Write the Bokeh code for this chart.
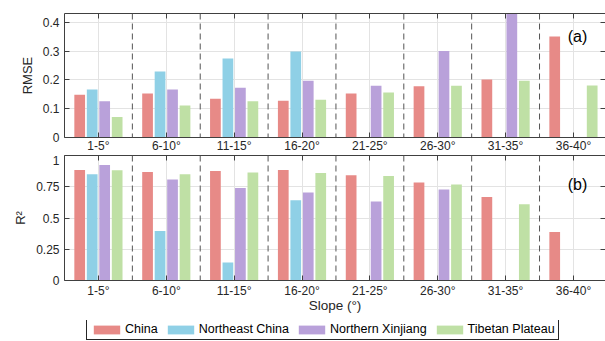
import math
from bokeh.plotting import figure
from bokeh.models import (FixedTicker, Span, Label, Legend, LegendItem, LinearAxis,
                          ColumnDataSource, Range1d, Grid)
from bokeh.layouts import column
from bokeh.embed import file_html
from bokeh.resources import INLINE

nan = float("nan")

categories = ["1-5°", "6-10°", "11-15°", "16-20°", "21-25°", "26-30°", "31-35°", "36-40°"]
series_names = ["China", "Northeast China", "Northern Xinjiang", "Tibetan Plateau"]
series_colors = ["#E78A87", "#8FD0E6", "#B9A1DA", "#BFE0A5"]

rmse_china = [0.149, 0.153, 0.135, 0.128, 0.153, 0.178, 0.202, 0.351]
rmse_northeast = [0.167, 0.229, 0.275, 0.299, nan, nan, nan, nan]
rmse_xinjiang = [0.126, 0.167, 0.173, 0.197, 0.180, 0.301, 0.450, nan]
rmse_tibet = [0.071, 0.111, 0.126, 0.131, 0.156, 0.180, 0.197, 0.181]

r2_china = [0.885, 0.869, 0.877, 0.885, 0.843, 0.784, 0.669, 0.389]
r2_northeast = [0.851, 0.397, 0.144, 0.643, nan, nan, nan, nan]
r2_xinjiang = [0.925, 0.808, 0.741, 0.704, 0.632, 0.728, nan, nan]
r2_tibet = [0.883, 0.851, 0.864, 0.861, 0.837, 0.768, 0.611, nan]

rmse_ticks = [0, 0.1, 0.2, 0.3, 0.4]
r2_ticks = [0, 0.25, 0.5, 0.75, 1]

FONT = "Liberation Sans"
TXT = "#262626"
LINE = "#404040"
GRID = "#E3E3E3"

offsets = [-0.276, -0.092, 0.092, 0.276]
bar_w = 0.158
positions = list(range(1, len(categories) + 1))
GROUP_PX = 67.86
LEFT = 64
FRAME_W = 541
TOTAL_W = LEFT + FRAME_W
x_end = 0.5 + FRAME_W / GROUP_PX


def series_source(vals, off):
    xs = [pos + off for pos, v in zip(positions, vals) if not math.isnan(v)]
    ys = [v for v in vals if not math.isnan(v)]
    return ColumnDataSource(dict(x=xs, top=ys))


def make_panel(values, ymax, yticks, ylabel, tag, tag_y, frame_h, min_top, min_bottom, show_xlabel):
    p = figure(frame_width=FRAME_W, frame_height=frame_h, output_backend="svg",
               toolbar_location=None, x_range=Range1d(0.5, x_end), y_range=Range1d(0, ymax),
               min_border_left=LEFT, min_border_right=0, min_border_top=min_top,
               min_border_bottom=min_bottom, x_axis_location=None, y_axis_location=None)
    p.outline_line_color = None
    p.background_fill_color = "white"
    p.border_fill_color = "white"

    for vals, off, col in zip(values, offsets, series_colors):
        p.vbar(x="x", top="top", bottom=0, width=bar_w, source=series_source(vals, off),
               fill_color=col, line_color=None)

    xt = FixedTicker(ticks=positions, minor_ticks=[])
    yt = FixedTicker(ticks=yticks, minor_ticks=[])
    overrides = {pos: c for pos, c in zip(positions, categories)}
    yover = {t: ("%g" % t) for t in yticks}

    below = LinearAxis(ticker=xt, major_label_overrides=overrides)
    left = LinearAxis(ticker=yt, major_label_overrides=yover)
    above = LinearAxis(ticker=xt, major_label_overrides={pos: "" for pos in positions})
    right = LinearAxis(ticker=yt, major_label_overrides={t: "" for t in yticks})
    for ax in (below, left, above, right):
        ax.major_tick_in = 5
        ax.major_tick_out = 0
        ax.minor_tick_in = 0
        ax.minor_tick_out = 0
        ax.major_tick_line_color = LINE
        ax.axis_line_color = LINE
        ax.major_label_text_font = FONT
        ax.major_label_text_font_size = "12px"
        ax.major_label_text_color = TXT
        ax.axis_label_text_font = FONT
        ax.axis_label_text_font_style = "normal"
        ax.axis_label_text_color = TXT
    for ax in (above, right):
        ax.major_label_text_font_size = "1px"
        ax.major_label_standoff = 0
    right.axis_line_color = None
    below.major_label_standoff = 1 if not show_xlabel else 3
    left.major_label_standoff = 5
    left.axis_label = ylabel
    left.axis_label_text_font_size = "13px"
    left.axis_label_standoff = 5
    if show_xlabel:
        below.axis_label = "Slope (°)"
        below.axis_label_text_font_size = "13.5px"
        below.axis_label_standoff = -3
    p.add_layout(below, "below")
    p.add_layout(left, "left")
    p.add_layout(above, "above")
    p.add_layout(right, "right")

    p.xgrid.visible = False
    p.ygrid.visible = False
    p.add_layout(Grid(dimension=0, ticker=xt, grid_line_color=GRID))
    p.add_layout(Grid(dimension=1, ticker=yt, grid_line_color=GRID))

    for i in range(len(categories) - 1):
        p.add_layout(Span(location=positions[i] + 0.5, dimension="height",
                          line_color="#555555", line_width=1, line_dash="6 4"))

    p.add_layout(Label(x=8.06, y=tag_y, text=tag, text_font=FONT, text_font_size="16px",
                       text_color="#000000", text_align="center", text_baseline="middle"))
    return p


p1 = make_panel([rmse_china, rmse_northeast, rmse_xinjiang, rmse_tibet], 0.431,
                rmse_ticks, "RMSE", "(a)", 0.351, 124, 13, 0, False)
p2 = make_panel([r2_china, r2_northeast, r2_xinjiang, r2_tibet], 1.0,
                r2_ticks, "R²", "(b)", 0.768, 125, 0, 40, True)

# legend strip: same series; its y range lies above the bars, so only the legend shows
p3 = figure(width=TOTAL_W, height=20, output_backend="svg", toolbar_location=None,
            x_range=Range1d(0.5, x_end), y_range=Range1d(5, 6), min_border=0,
            x_axis_location=None, y_axis_location=None)
p3.outline_line_color = None
p3.xgrid.visible = False
p3.ygrid.visible = False
leg_renderers = []
for vals, off, col in zip([r2_china, r2_northeast, r2_xinjiang, r2_tibet], offsets, series_colors):
    leg_renderers.append(p3.vbar(x="x", top="top", bottom=0, width=bar_w,
                                 source=series_source(vals, off), fill_color=col, line_color=None))

legend = Legend(items=[LegendItem(label=n, renderers=[r]) for n, r in zip(series_names, leg_renderers)],
                orientation="horizontal", location=(22, 0),
                glyph_width=33, glyph_height=11, label_standoff=2, spacing=6,
                padding=3, margin=0, label_text_font=FONT, label_text_font_size="12.5px",
                label_text_color="#000000", border_line_color="#262626", border_line_width=1,
                border_line_alpha=1.0, label_height=12)
p3.add_layout(legend, "center")

layout = column(p1, p2, p3, spacing=0)
open("out.html", "w").write(file_html(layout, INLINE))
